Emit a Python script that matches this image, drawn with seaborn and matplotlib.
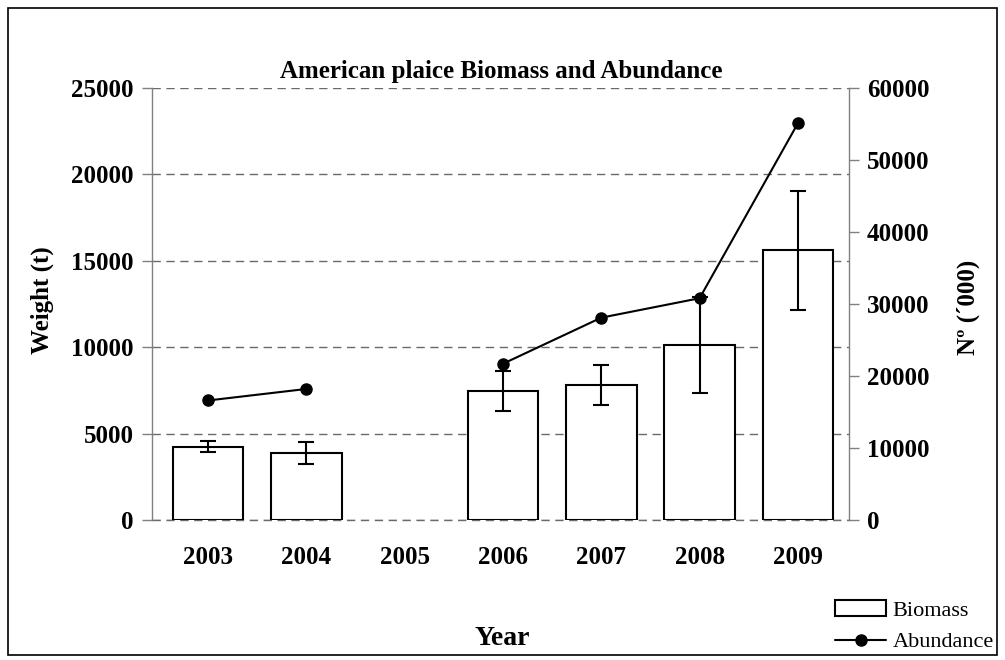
import numpy as np
import pandas as pd
import matplotlib
matplotlib.use("Agg")
import matplotlib.pyplot as plt
from matplotlib.patches import Rectangle, Patch
from matplotlib.lines import Line2D
import seaborn as sns

# Daten
jahre = ["2003", "2004", "2005", "2006", "2007", "2008", "2009"]
biomasse = [4250, 3900, np.nan, 7480, 7830, 10150, 15600]
biomasse_fehler = [340, 630, np.nan, 1160, 1160, 2780, 3450]
abundanz = [16600, 18200, np.nan, 21700, 28100, 30800, 55100]

df = pd.DataFrame({"Jahr": jahre, "Biomasse": biomasse,
                   "Fehler": biomasse_fehler, "Abundanz": abundanz})

sns.set_theme(style="white")
plt.rcParams["font.family"] = ["Liberation Serif", "DejaVu Serif"]
plt.rcParams["text.color"] = "black"
plt.rcParams["xtick.color"] = "black"
plt.rcParams["ytick.color"] = "black"

fig = plt.figure(figsize=(10.05, 6.6), dpi=100)
ax = fig.add_axes([0.1512, 0.2121, 0.6936, 0.6546])

grau = "#808080"
strich = (0, (6, 4))

sns.barplot(data=df, x="Jahr", y="Biomasse", order=jahre, color="white",
            edgecolor="black", linewidth=1.5, width=0.72, errorbar=None,
            saturation=1, ax=ax, zorder=2)
pos = np.arange(len(jahre))
ax.errorbar(pos, df["Biomasse"], yerr=df["Fehler"], fmt="none",
            ecolor="black", elinewidth=1.5, capsize=6, capthick=1.5, zorder=3)

ax.set_ylim(0, 25000)
ax.set_yticks(range(0, 25001, 5000))
ax.set_xlim(-0.57, 6.52)
ax.grid(axis="y", color="#6a6a6a", linestyle=strich, linewidth=1.0)
ax.set_axisbelow(True)
ax.axhline(0, color="#6a6a6a", linestyle=strich, linewidth=1.0,
           clip_on=False, zorder=1)

for s in ["top", "bottom", "right"]:
    ax.spines[s].set_visible(False)
ax.spines["left"].set_color(grau)
ax.spines["left"].set_linewidth(1.0)
ax.tick_params(axis="y", direction="out", length=7, color=grau, width=1.0,
               labelsize=18, pad=6, left=True, labelcolor="black")
ax.tick_params(axis="x", length=0, labelsize=18, pad=19, labelcolor="black")
for t in ax.get_xticklabels() + ax.get_yticklabels():
    t.set_fontweight("bold")
ax.set_xlabel("")
ax.set_ylabel("")

ax2 = ax.twinx()
ax2.plot(pos, df["Abundanz"], color="black", linewidth=1.5, marker="o",
         markersize=8, zorder=4)
ax2.set_ylim(0, 60000)
ax2.set_yticks(range(0, 60001, 10000))
for s in ["top", "bottom", "left"]:
    ax2.spines[s].set_visible(False)
ax2.spines["right"].set_color(grau)
ax2.spines["right"].set_linewidth(1.0)
ax2.tick_params(axis="y", direction="out", length=7, color=grau, width=1.0,
                labelsize=18, pad=6, right=True, labelcolor="black")
for t in ax2.get_yticklabels():
    t.set_fontweight("bold")
ax2.grid(False)

fig.text(0.4985, 0.891, "American plaice Biomass and Abundance",
         ha="center", va="center", fontsize=18, fontweight="bold")
fig.text(0.50, 0.033, "Year", ha="center", va="center",
         fontsize=20, fontweight="bold")
fig.text(0.042, 0.545, "Weight (t)", ha="center", va="center",
         rotation=90, fontsize=18, fontweight="bold")
fig.text(0.963, 0.535, "Nº (´000)", ha="center", va="center",
         rotation=90, fontsize=18, fontweight="bold")

handles = [Patch(facecolor="white", edgecolor="black", linewidth=1.5),
           Line2D([0], [0], color="black", linewidth=1.5, marker="o",
                  markersize=8)]
fig.legend(handles, ["Biomass", "Abundance"], loc="lower left",
           bbox_to_anchor=(0.822, -0.002), frameon=False, fontsize=16,
           handlelength=2.3, handletextpad=0.3, labelspacing=0.5,
           borderaxespad=0)

fig.add_artist(Rectangle((0.008, 0.008), 0.984, 0.98,
                         transform=fig.transFigure, fill=False,
                         edgecolor="black", linewidth=1.2))

fig.savefig("out.png", dpi=100)
